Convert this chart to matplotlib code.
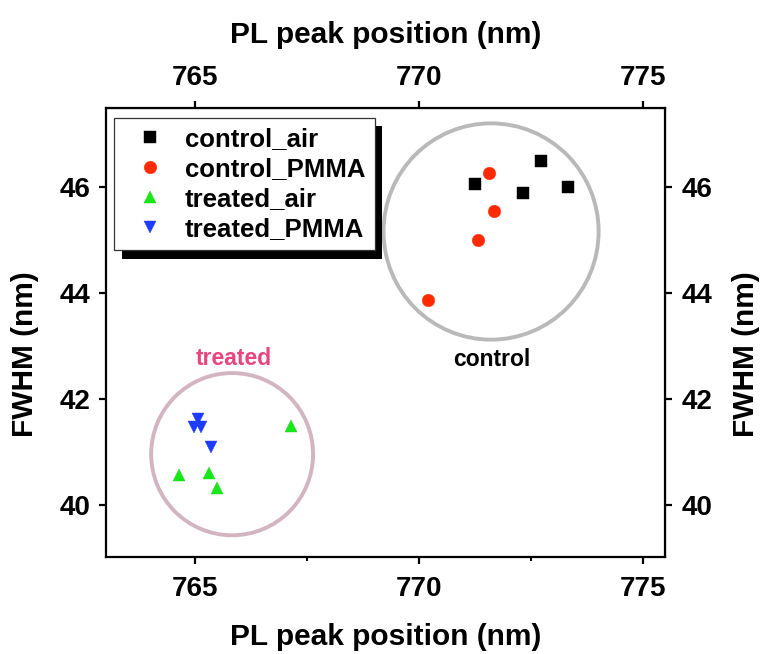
import numpy as np
import pandas as pd
import matplotlib
matplotlib.use("Agg")
import matplotlib.pyplot as plt
from matplotlib.patches import Ellipse, Rectangle

plt.rcParams['font.family'] = ['Liberation Sans', 'DejaVu Sans']
plt.rcParams['font.weight'] = 'bold'

# data
control_air_x = [771.24, 772.72, 772.32, 773.32]
control_air_y = [46.06, 46.49, 45.89, 46.00]
control_pmma_x = [771.57, 771.68, 771.32, 770.20]
control_pmma_y = [46.26, 45.55, 45.00, 43.87]
treated_air_x = [767.14, 764.64, 765.30, 765.49]
treated_air_y = [41.49, 40.57, 40.60, 40.33]
treated_pmma_x = [765.05, 764.96, 765.13, 765.35]
treated_pmma_y = [41.62, 41.47, 41.47, 41.09]

# group circles: centre x, centre y, width, height (data units)
control_ring = (771.61, 45.16, 4.81, 4.08)
treated_ring = (765.82, 40.96, 3.62, 3.06)

x_ticks = [765, 770, 775]
y_ticks = [40, 42, 44, 46]

fig = plt.figure(figsize=(7.61, 6.54), dpi=100)
ax = fig.add_axes([0.1393, 0.1483, 0.7346, 0.6866])

ax.add_patch(Ellipse(control_ring[:2], control_ring[2], control_ring[3],
                     fill=False, edgecolor='#b9b9b9', lw=2.8, zorder=1))
ax.add_patch(Ellipse(treated_ring[:2], treated_ring[2], treated_ring[3],
                     fill=False, edgecolor='#d3b5c1', lw=2.8, zorder=1))

ms = 9
ax.plot(control_air_x, control_air_y, 's', color='black', ms=ms, mec='black', mew=0.3, label='control_air')
ax.plot(control_pmma_x, control_pmma_y, 'o', color='#ff2a00', ms=ms, mec='#ff2a00', mew=0.3, label='control_PMMA')
ax.plot(treated_air_x, treated_air_y, '^', color='#18e818', ms=ms, mec='#18d018', mew=0.3, label='treated_air')
ax.plot(treated_pmma_x, treated_pmma_y, 'v', color='#1e3cff', ms=ms, mec='#1e3cff', mew=0.3, label='treated_PMMA')

ax.text(771.62, 42.74, 'control', ha='center', va='center', fontsize=16.5, fontweight='bold', color='black')
ax.text(765.85, 42.77, 'treated', ha='center', va='center', fontsize=16.5, fontweight='bold', color='#e6467d')

ax.set_xlim(763, 775.5)
ax.set_ylim(39.02, 47.49)
ax.set_xticks(x_ticks)
ax.set_xticks([767.5, 772.5], minor=True)
ax.set_yticks(y_ticks)

for sp in ax.spines.values():
    sp.set_linewidth(1.6)
ax.tick_params(axis='x', which='major', direction='out', length=5, width=1.6, labelsize=20, pad=9)
ax.tick_params(axis='y', which='major', direction='out', length=5, width=1.6, labelsize=20, pad=6)
ax.tick_params(which='minor', direction='out', length=3, width=1.4)

top = ax.secondary_xaxis('top')
top.set_xticks(x_ticks)
top.tick_params(direction='out', length=5, width=1.6, labelsize=20, pad=7)
top.set_xlabel('PL peak position (nm)', fontsize=21.5, fontweight='bold', labelpad=16)

right = ax.secondary_yaxis('right')
right.set_yticks(y_ticks)
right.tick_params(direction='out', length=5, width=1.6, labelsize=20, pad=7)
right.set_ylabel('FWHM (nm)', fontsize=21.5, fontweight='bold', labelpad=14, y=0.452)

ax.set_xlabel('PL peak position (nm)', fontsize=21.5, fontweight='bold', labelpad=15)
ax.set_ylabel('FWHM (nm)', fontsize=21.5, fontweight='bold', labelpad=15, y=0.452)

for lab in ax.get_xticklabels() + ax.get_yticklabels() + top.get_xticklabels() + right.get_yticklabels():
    lab.set_fontweight('bold')

leg = ax.legend(loc='upper left', bbox_to_anchor=(0.015, 0.978), fontsize=18.5, frameon=True,
                fancybox=False, edgecolor='#333333', framealpha=1, borderpad=0.35,
                labelspacing=0.24, handlelength=2.1, handletextpad=0.3, borderaxespad=0)
leg.get_frame().set_linewidth(0.9)
for t in leg.get_texts():
    t.set_fontweight('bold')

# thick black drop shadow behind the legend
fig.canvas.draw()
bb = leg.get_window_extent().transformed(fig.transFigure.inverted())
dx, dy = 7.5 / 761, 8.5 / 654
ax.add_artist(Rectangle((bb.x0 + dx, bb.y0 - dy), bb.width, bb.height,
                        transform=fig.transFigure, facecolor='black', edgecolor='none', zorder=4))
leg.set_zorder(5)

fig.savefig('out.png', dpi=100)
